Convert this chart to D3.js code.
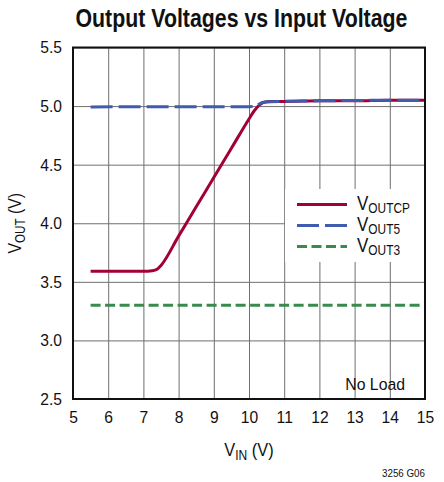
<!DOCTYPE html>
<html>
<head>
<meta charset="utf-8">
<script src="https://cdn.jsdelivr.net/npm/d3@7"></script>
<style>
  body { margin: 0; background: #fff; }
  svg text { font-family: "Liberation Sans Narrow", "Liberation Sans", Arial, sans-serif; fill: #111; }
</style>
</head>
<body>
<svg width="444" height="482"></svg>
<script>
const w = 444;
const h = 482;
const margin = {left: 73, right: 19, top: 47.5, bottom: 83};
const svg = d3.select("svg");

// data
const vinCP  = [5.5, 6, 6.5, 7, 7.25, 7.4, 7.5, 8, 8.5, 9, 9.5, 10, 10.15, 10.3, 10.4, 10.6, 11, 12, 13, 14, 15];
const voutCP = [3.59, 3.59, 3.59, 3.59, 3.595, 3.61, 3.64, 3.89, 4.14, 4.39, 4.64, 4.89, 4.96, 5.01, 5.03, 5.04, 5.04, 5.045, 5.045, 5.05, 5.05];
const vin5   = [5.5, 7, 8, 9, 10, 10.2, 10.3, 10.45, 11, 12, 13, 14, 15];
const vout5  = [4.992, 4.995, 4.995, 4.995, 4.995, 4.998, 5.02, 5.035, 5.04, 5.045, 5.048, 5.05, 5.05];
const vin3   = [5.5, 15];
const vout3  = [3.3, 3.3];
const xTicks = [5, 6, 7, 8, 9, 10, 11, 12, 13, 14, 15];
const yTicks = [2.5, 3.0, 3.5, 4.0, 4.5, 5.0, 5.5];

const series = [
  {name: "OUTCP", xs: vinCP, ys: voutCP, col: "#a3003a", dash: null},
  {name: "OUT5",  xs: vin5,  ys: vout5,  col: "#3f5cae", dash: "22,6"},
  {name: "OUT3",  xs: vin3,  ys: vout3,  col: "#3a8a4e", dash: "10,4.5"}
];

// no narrow font installed -> squeeze text horizontally round its anchor
function narrow(sel, k) {
  sel.each(function () {
    const t = d3.select(this);
    const ax = +t.attr("x") || 0;
    const prev = t.attr("transform") || "";
    t.attr("transform", `${prev} translate(${ax},0) scale(${k},1) translate(${-ax},0)`);
  });
}

const x = d3.scaleLinear().domain([5, 15]).range([margin.left, w - margin.right]);
const y = d3.scaleLinear().domain([2.5, 5.5]).range([h - margin.bottom, margin.top]);
const pw = x.range()[1] - x.range()[0];
const ph = y.range()[0] - y.range()[1];

// title
svg.append("text").attr("x", 241.5).attr("y", 27).attr("text-anchor", "middle")
  .style("font-size", "26px").style("font-weight", "bold")
  .text("Output Voltages vs Input Voltage")
  .call(narrow, 0.82);

// axes with grid
const xAxis = d3.axisBottom(x).tickValues(xTicks).tickSizeInner(-ph).tickSizeOuter(0).tickPadding(12);
const yAxis = d3.axisLeft(y).tickValues(yTicks).tickFormat(d3.format(".1f")).tickSizeInner(-pw).tickSizeOuter(0).tickPadding(11);

const gx = svg.append("g").attr("transform", `translate(0,${y.range()[0]})`).call(xAxis);
const gy = svg.append("g").attr("transform", `translate(${margin.left},0)`).call(yAxis);
[gx, gy].forEach(g => {
  g.select(".domain").remove();
  g.selectAll("line").attr("stroke", "#6f6f6f").attr("stroke-width", 1);
  g.selectAll("text").style("font-size", "17px").attr("fill", "#111").call(narrow, 0.92);
});

// legend background (covers grid)
svg.append("rect").attr("x", 285).attr("y", 189).attr("width", 140).attr("height", 73).attr("fill", "#fff");

// curves
const line = d3.line().x(d => x(d[0])).y(d => y(d[1])).curve(d3.curveMonotoneX);
series.forEach(s => {
  svg.append("path")
    .datum(s.xs.map((v, i) => [v, s.ys[i]]))
    .attr("d", line)
    .attr("fill", "none")
    .attr("stroke", s.col)
    .attr("stroke-width", 3)
    .attr("stroke-dasharray", s.dash);
});

// frame
svg.append("rect").attr("x", margin.left).attr("y", margin.top).attr("width", pw).attr("height", ph)
  .attr("fill", "none").attr("stroke", "#111").attr("stroke-width", 2);

// legend
const leg = svg.append("g");
series.forEach((s, i) => {
  const ly = 204.5 + i * 21;
  leg.append("line").attr("x1", 297).attr("x2", 347).attr("y1", ly).attr("y2", ly)
    .attr("stroke", s.col).attr("stroke-width", 3).attr("stroke-dasharray", s.dash);
  const t = leg.append("text").attr("x", 357).attr("y", ly + 6).style("font-size", "20px");
  t.append("tspan").text("V");
  t.append("tspan").attr("dy", 3).style("font-size", "14px").text(s.name);
  t.call(narrow, 0.85);
});

// axis titles
const xt = svg.append("text").attr("x", x(10)).attr("y", 456).attr("text-anchor", "middle").style("font-size", "19px");
xt.append("tspan").text("V");
xt.append("tspan").attr("dy", 4).style("font-size", "14px").text("IN");
xt.append("tspan").attr("dy", -4).text(" (V)");
xt.call(narrow, 0.86);

const yt = svg.append("text").attr("transform", `translate(20.5,${(y.range()[0] + y.range()[1]) / 2}) rotate(-90)`)
  .attr("text-anchor", "middle").style("font-size", "19px");
yt.append("tspan").text("V");
yt.append("tspan").attr("dy", 4).style("font-size", "14px").text("OUT");
yt.append("tspan").attr("dy", -4).text(" (V)");
yt.call(narrow, 0.83);

// notes
svg.append("text").attr("x", 405).attr("y", 390).attr("text-anchor", "end").style("font-size", "17px")
  .text("No Load").call(narrow, 0.93);
svg.append("text").attr("x", 425).attr("y", 477).attr("text-anchor", "end").style("font-size", "11px")
  .text("3256 G06").call(narrow, 0.89);
</script>
</body>
</html>
